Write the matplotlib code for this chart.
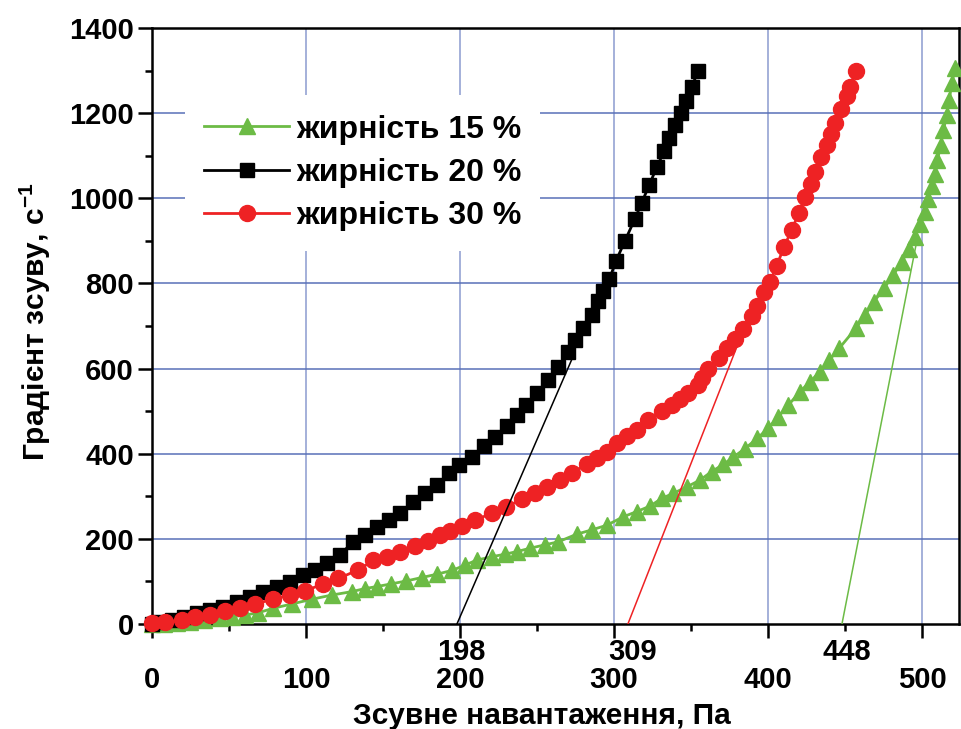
import matplotlib
matplotlib.use("Agg")
import matplotlib.pyplot as plt
from matplotlib.ticker import MultipleLocator

plt.rcParams['font.family'] = ['Liberation Sans', 'DejaVu Sans']
plt.rcParams['font.weight'] = 'bold'
plt.rcParams['mathtext.fontset'] = 'custom'
plt.rcParams['mathtext.rm'] = 'Liberation Sans'
plt.rcParams['mathtext.bf'] = 'Liberation Sans:bold'

# ---- data ----
x20 = [0, 4, 12.8, 21, 29, 37.7, 46, 55, 63.6, 72, 81, 89.6, 98, 105.8, 113.6, 122, 130.5, 138,
       145.9, 154.1, 161, 169.7, 177.3, 184.9, 193, 199.5, 207.6, 215.6, 222.7, 230.3, 236.8,
       242.9, 249.8, 257.4, 263.9, 270.3, 274.7, 280, 285.5, 289.8, 293, 297, 301.3, 307.1,
       313.6, 318, 322.9, 327.7, 332.5, 336, 339.6, 343.3, 346.8, 350.4, 354.7]
y20 = [0, 4, 9, 17, 26, 33, 40, 52, 64, 74, 88, 99, 115, 127, 144, 162, 193, 210,
       229, 244, 261, 287, 307, 327, 354, 374, 393, 417, 440, 464, 491,
       515, 542, 573, 604, 640, 667, 695, 726, 759, 783, 810, 853, 900,
       952, 990, 1031, 1073, 1110, 1141, 1172, 1200, 1229, 1261, 1300]

x30 = [0, 8.4, 19.3, 27.9, 37.7, 47.4, 57.1, 66.9, 78.4, 89.6, 99.4, 111.2, 121, 134, 143.7,
       152.4, 161, 170.8, 179.4, 187, 193.5, 201.1, 209.7, 220.6, 229.6, 240, 248.7, 256.3,
       265, 272.5, 282.3, 288.8, 295.3, 301.7, 308.6, 314.7, 322.3, 331, 337.5, 342.9, 348.3,
       354.7, 357, 361.2, 368.4, 373.6, 378.6, 384, 389.8, 393, 397.4, 401.3, 405.6, 410.4,
       415.4, 420.1, 424, 427.7, 430.5, 434.2, 438.1, 440.7, 443.5, 447.2, 451.1, 453.2, 457]
y30 = [3, 5, 9, 16, 21, 31, 38, 47, 58, 68, 78, 94, 107, 127, 150,
       158, 170, 184, 195, 209, 219, 231, 244, 260, 274, 293, 308, 321,
       338, 354, 376, 391, 405, 424, 442, 456, 479, 501, 514, 528, 542,
       561, 577, 598, 626, 648, 669, 692, 724, 747, 781, 804, 841, 886,
       926, 966, 1004, 1034, 1061, 1096, 1125, 1151, 1178, 1209, 1240, 1262, 1300]

x15 = [0, 8, 16, 24.7, 34, 44, 51.7, 60.4, 69, 78.8, 90.7, 103.7, 116.7, 129.7, 138, 146, 155,
       165, 175, 185, 195, 203, 210.8, 220.6, 229.2, 236.8, 245.5, 255.2, 263.8, 275.8, 285.5,
       295.3, 306.1, 314.7, 323.4, 331, 338.5, 347.2, 355.8, 363.4, 371, 377.5, 385, 393,
       400.2, 406.7, 413.2, 420.8, 427.3, 433.8, 439.8, 446.3, 457.1, 463, 468.8, 475.3,
       481.4, 486.8, 491.8, 495.5, 498.7, 502, 504.1, 506.3, 508.4, 510, 512.1, 513.9, 516,
       517.7, 519.3, 521.4]
y15 = [0, 1, 3, 5.5, 9, 13, 17, 21, 26.5, 37, 47, 58, 68, 76, 83, 88, 94,
       101, 109, 117, 126, 138, 150, 158, 164, 170, 178, 186, 193, 211, 221,
       232, 252, 264, 277, 295, 307, 322, 338, 358, 375, 392, 412, 436,
       460, 487, 514, 546, 569, 593, 620, 648, 695, 726, 757, 789,
       820, 851, 882, 910, 940, 968, 998, 1029, 1057, 1090, 1125, 1160, 1196,
       1231, 1270, 1305]

labels = ['жирність 15 %', 'жирність 20 %', 'жирність 30 %']
colors = ['#6cbb45', '#000000', '#ee2224']

# tangent lines: (x at y=0, x_end, y_end)
tan_x0 = [448, 198, 309]
tan_x1 = [496.5, 273, 384]
tan_y1 = [898, 625, 690]
tan_labels = ['448', '198', '309']

xticks = [0, 100, 200, 300, 400, 500]
yticks = [0, 200, 400, 600, 800, 1000, 1200, 1400]

# ---- figure ----
fig = plt.figure(figsize=(9.61, 7.29), dpi=100)
ax = fig.add_axes([152 / 961, (729 - 624) / 729, (959 - 152) / 961, (624 - 28) / 729])

ax.set_xlim(0, 524)
ax.set_ylim(0, 1400)

for xv in xticks[1:]:
    ax.axvline(xv, color='#8c9bcf', lw=1.1, zorder=0)
for yv in yticks[1:-1]:
    ax.axhline(yv, color='#5870b8', lw=1.1, zorder=0)

ax.plot(x15, y15, '-^', color=colors[0], lw=2, ms=12, mec=colors[0], label=labels[0], zorder=3, clip_on=False)
ax.plot(x20, y20, '-s', color=colors[1], lw=2, ms=10, mec=colors[1], label=labels[1], zorder=3, clip_on=False)
ax.plot(x30, y30, '-o', color=colors[2], lw=2, ms=11.5, mec=colors[2], label=labels[2], zorder=3, clip_on=False)

tan_colors = [colors[0], colors[1], colors[2]]
for x0, x1, y1, c, t in zip(tan_x0, tan_x1, tan_y1, tan_colors, tan_labels):
    ax.plot([x0, x1], [0, y1], '-', color=c, lw=1.1, zorder=4)
    ax.text(x0 + 3, -84.5, t, ha='center', va='baseline', fontsize=21, fontweight='bold', clip_on=False)

ax.set_xticks(xticks)
ax.set_yticks(yticks)
ax.xaxis.set_minor_locator(MultipleLocator(50))
ax.yaxis.set_minor_locator(MultipleLocator(100))
ax.tick_params(which='major', direction='out', length=10, width=1.8, labelsize=21, top=False, right=False)
ax.tick_params(which='minor', direction='out', length=5, width=1.8, top=False, right=False)
ax.tick_params(axis='x', which='major', pad=20.5)
ax.tick_params(axis='y', which='major', pad=3)
for lab in ax.get_xticklabels() + ax.get_yticklabels():
    lab.set_fontweight('bold')
for sp in ax.spines.values():
    sp.set_linewidth(1.8)

leg = ax.legend(loc='upper left', bbox_to_anchor=(0.041, 0.887), fontsize=23, frameon=True,
                facecolor='white', edgecolor='none', framealpha=1, handlelength=2.65,
                labelspacing=0.42, handletextpad=0.22, borderpad=0.6, borderaxespad=0,
                fancybox=False)
for t in leg.get_texts():
    t.set_fontweight('bold')
leg.set_zorder(5)

fig.text(542 / 961, 4.5 / 729, 'Зсувне навантаження, Па', ha='center', va='baseline',
         fontsize=21.5, fontweight='bold')
fig.text(35 / 961, (729 - 322) / 729, r'Градієнт зсуву, с$^{\mathbf{-1}}$', ha='center', va='center',
         rotation=90, fontsize=21.5, fontweight='bold')

fig.savefig('out.png', dpi=100)
